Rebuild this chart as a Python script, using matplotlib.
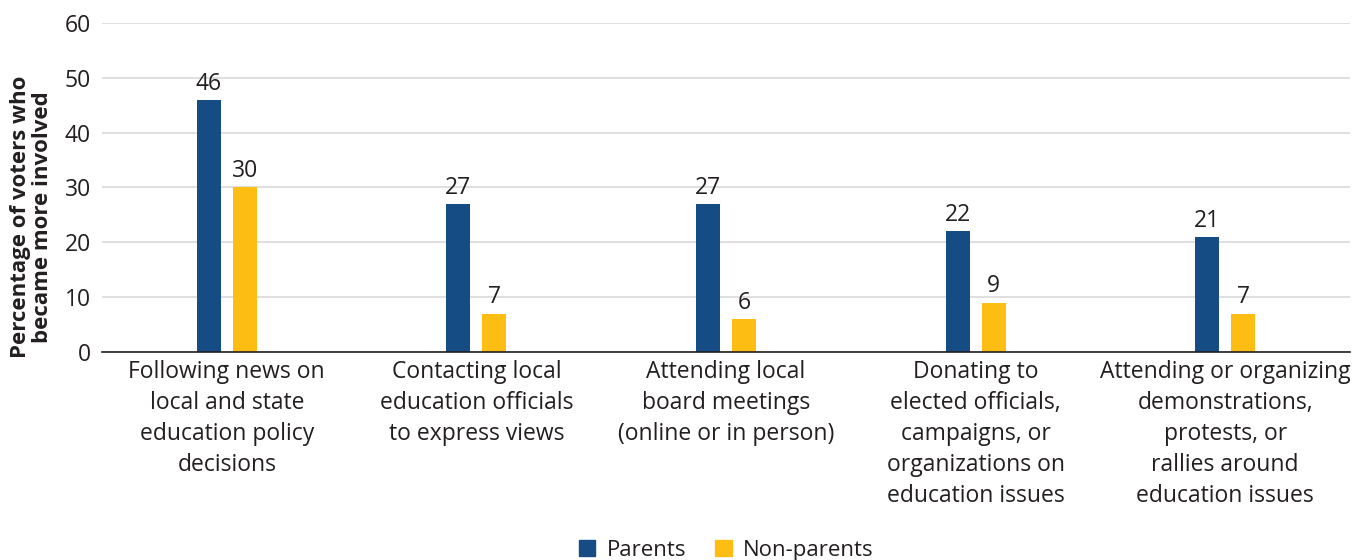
import numpy as np
import matplotlib.pyplot as plt
from matplotlib.patches import Patch

plt.rcParams['font.family'] = ['Open Sans', 'DejaVu Sans']
plt.rcParams['font.size'] = 16.5

categories = [
    'Following news on\nlocal and state\neducation policy\ndecisions',
    'Contacting local\neducation officials\nto express views',
    'Attending local\nboard meetings\n(online or in person)',
    'Donating to\nelected officials,\ncampaigns, or\norganizations on\neducation issues',
    'Attending or organizing\ndemonstrations,\nprotests, or\nrallies around\neducation issues',
]
parents = [46, 27, 27, 22, 21]
non_parents = [30, 7, 6, 9, 7]

blue = '#154c83'
gold = '#fdbd13'
ink = '#231f20'

fig = plt.figure(figsize=(13.6, 5.6), dpi=100)
ax = fig.add_axes([0.075, 0.3714, 0.9176, 0.5876])

x = np.arange(len(categories))
w = 0.096
off = 0.072
b1 = ax.bar(x - off, parents, w, color=blue, zorder=3)
b2 = ax.bar(x + off, non_parents, w, color=gold, zorder=3)
for bars in (b1, b2):
    ax.bar_label(bars, padding=3, fontsize=16.5, color=ink)

ax.set_xlim(-0.5, len(categories) - 0.5)
ax.set_ylim(0, 60)
ax.set_yticks(range(0, 61, 10))
ax.yaxis.grid(True, color='#d9d9d9', linewidth=1.2, zorder=0)
ax.set_axisbelow(True)
for s in ('top', 'right', 'left'):
    ax.spines[s].set_visible(False)
ax.spines['bottom'].set_color(ink)
ax.spines['bottom'].set_linewidth(1.2)
ax.spines['bottom'].set_zorder(4)

ax.set_xticks(x)
ax.set_xticklabels(categories, linespacing=1.38, color=ink)
ax.tick_params(axis='x', length=0, pad=6)
ax.tick_params(axis='y', length=0, pad=8, labelcolor=ink)

ax.set_ylabel('Percentage of voters who\nbecame more involved', fontweight='bold',
              fontsize=16, color=ink, linespacing=1.1)
ax.yaxis.set_label_coords(-0.039, 0.41)

handles = [Patch(color=blue, label='Parents'), Patch(color=gold, label='Non-parents')]
ax.legend(handles=handles, loc='center', bbox_to_anchor=(0.5, -0.603), ncol=2,
          frameon=False, handlelength=0.75, handleheight=0.75, handletextpad=0.5,
          columnspacing=1.3, fontsize=16, labelcolor=ink)

fig.savefig('out.png', dpi=100)
